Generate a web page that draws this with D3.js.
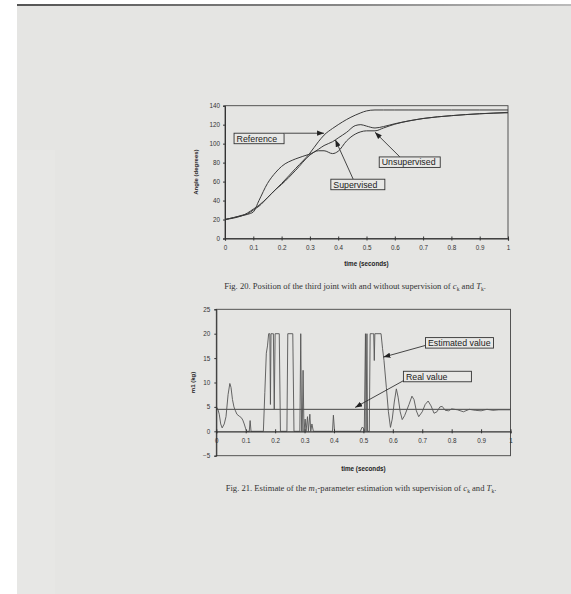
<!DOCTYPE html>
<html>
<head>
<meta charset="utf-8">
<script src="https://cdn.jsdelivr.net/npm/d3@7"></script>
<style>
  body { margin: 0; background: #fff; }
  svg { display: block; }
  .tk text { font-family: "Liberation Sans", Arial, sans-serif; font-size: 6.3px; fill: #333; }
</style>
</head>
<body>
<div id="page"></div>
<script>
// ---- Fig. 20 data (angle of the third joint, degrees) ----
const timeTop = [0, 0.03, 0.06, 0.08, 0.1, 0.12, 0.15, 0.18, 0.2, 0.25, 0.3, 0.33, 0.35, 0.38, 0.4, 0.43, 0.46, 0.48, 0.5, 0.53, 0.56, 0.6, 0.65, 0.7, 0.8, 0.9, 1];
const referenceAngle = [20, 21.5, 24, 27, 31, 35, 43, 52, 58, 74, 90, 102, 109, 116, 120, 125.5, 130, 132.5, 134.5, 135.5, 135.5, 135.5, 135.5, 135.5, 135.5, 135.5, 135.5];
const supervisedAngle = [20, 22, 24.5, 26, 30, 34, 43, 52, 57, 72, 88, 94, 98, 102, 106, 112, 119, 120, 118.5, 116.5, 118, 121, 124, 126.5, 129.5, 131.5, 132.5];
const unsupervisedAngle = [20, 22, 24, 25.5, 28, 40, 58, 70, 76, 84, 89, 92.5, 92.5, 89.5, 92, 103, 110, 112.5, 113.5, 113.5, 116.5, 120.5, 124, 126.5, 129.5, 131.5, 133];
const topSeries = [referenceAngle, supervisedAngle, unsupervisedAngle];

// annotations: label, box corner (t, value), arrow start, arrow tip
const topLabels = ['Reference', 'Supervised', 'Unsupervised'];
const topBoxAt = [[0.032, 111], [0.374, 62.5], [0.545, 86]];
const topFrom = [[0.21, 111], [0.453, 62.5], [0.618, 86]];
const topTip = [[0.35, 111], [0.39, 104], [0.53, 112]];

// ---- Fig. 21 data (m1 estimate, kg) ----
const timeEst = [0, 0.005, 0.01, 0.015, 0.02, 0.027, 0.033, 0.04, 0.046, 0.05, 0.055, 0.06, 0.065, 0.07, 0.078, 0.085, 0.09, 0.095, 0.1, 0.104,
  0.112, 0.115, 0.118, 0.16, 0.165, 0.17, 0.174, 0.178, 0.182, 0.184, 0.186, 0.19, 0.194, 0.197, 0.2, 0.21, 0.214, 0.218,
  0.24, 0.243, 0.26, 0.264, 0.284, 0.287, 0.29, 0.292, 0.295, 0.298, 0.302, 0.305, 0.31, 0.313, 0.318, 0.321, 0.325, 0.33,
  0.395, 0.398, 0.402, 0.49, 0.495, 0.5, 0.503, 0.507, 0.509, 0.512, 0.514, 0.52, 0.523, 0.53, 0.535, 0.537, 0.539, 0.56,
  0.565, 0.57, 0.578, 0.585, 0.592, 0.598, 0.605, 0.612, 0.618, 0.625, 0.632, 0.64, 0.655, 0.665, 0.672, 0.68, 0.688,
  0.7, 0.71, 0.72, 0.73, 0.74, 0.75, 0.76, 0.768, 0.778, 0.79, 0.8, 0.82, 0.84, 0.86, 0.88, 0.9, 0.92, 0.94, 0.96, 1];
const estValue = [5, 4.6, 3.5, 1.5, 0.7, 1.5, 3, 7.5, 9.8, 9, 6.5, 5, 4.2, 3.5, 3.1, 2.8, 2.3, 1.5, 0.5, 0,
  0, 2.2, 0, 0, 8, 16, 17.5, 20, 20, 5.5, 20, 20, 20, 4.5, 20, 20, 20, 0,
  0, 20, 20, 0, 0, 20, 0, 0, 12.5, 0, 2.5, 0, 3, 0, 3.5, 0, 1.5, 0,
  0, 3.3, 0, 0, 0.8, 0.7, 0, 20, 0, 20, 0, 0, 20, 20, 20, 14.5, 20, 20,
  17, 14.5, 9, 4, 0.8, 2.5, 6, 8.7, 7, 4, 2.4, 3.2, 5.5, 7.2, 6.5, 4.2, 3,
  4, 5.5, 6.2, 5.2, 3.7, 4, 5, 5.1, 4.3, 4.2, 4.6, 4.4, 4, 4.5, 4.3, 4.2, 4.5, 4.3, 4.4, 4.4];
const realValue = 4.5;

const botLabels = ['Estimated value', 'Real value'];
const botBoxAt = [[0.711, 19.2], [0.636, 12.3]];
const botFrom = [[0.711, 17.6], [0.64, 10.5]];
const botTip = [[0.568, 15.2], [0.472, 4.9]];

const ticksX = d3.range(0, 11).map(i => i / 10);
const ticksTop = d3.range(0, 141, 20);
const ticksBot = d3.range(-5, 26, 5);

// ---- page ----
const W = 571, H = 594;
const svg = d3.select('#page').append('svg').attr('width', W).attr('height', H);

const defs = svg.append('defs');
const grad = defs.append('linearGradient').attr('id', 'edge');
grad.append('stop').attr('offset', '0').attr('stop-color', '#555');
grad.append('stop').attr('offset', '0.6').attr('stop-color', '#888');
grad.append('stop').attr('offset', '1').attr('stop-color', '#bbb');
defs.append('marker').attr('id', 'arr')
    .attr('viewBox', '0 0 8 6').attr('refX', 8).attr('refY', 3)
    .attr('markerWidth', 7).attr('markerHeight', 5.5).attr('markerUnits', 'userSpaceOnUse')
    .attr('orient', 'auto')
  .append('path').attr('d', 'M0,0 L8,3 L0,6 Z').attr('fill', '#222');

svg.append('rect').attr('x', 17).attr('y', 4).attr('width', W - 17).attr('height', H - 4).attr('fill', '#e5e5e3');
svg.append('rect').attr('x', 17).attr('y', 4).attr('width', W - 17).attr('height', 2).attr('fill', 'url(#edge)');
svg.append('rect').attr('x', 17).attr('y', 150).attr('width', 38).attr('height', H - 150).attr('fill', '#e7e7e5');

const fmtX = d => String(+d.toFixed(1));

function frame(g, x, y, yLo, yHi) {
  g.append('rect')
      .attr('x', x(0)).attr('y', y(yHi))
      .attr('width', x(1) - x(0)).attr('height', y(yLo) - y(yHi))
      .attr('fill', 'none').attr('stroke', '#444').attr('stroke-width', 0.9);
}

function xAxis(g, x, y0) {
  const ax = g.append('g').attr('class', 'tk')
      .attr('transform', `translate(0,${y0})`)
      .call(d3.axisBottom(x).tickValues(ticksX).tickFormat(fmtX).tickSize(2).tickPadding(5));
  ax.select('.domain').attr('stroke', '#333').attr('stroke-width', 1.2);
  ax.selectAll('.tick line').attr('y1', -2).attr('y2', 2).attr('stroke', '#333');
}

function yAxis(g, x, y, ticks, pad) {
  const ax = g.append('g').attr('class', 'tk')
      .attr('transform', `translate(${x(0)},0)`)
      .call(d3.axisLeft(y).tickValues(ticks).tickSize(2).tickPadding(pad));
  ax.select('.domain').attr('stroke', '#333');
  ax.selectAll('.tick line').attr('stroke', '#333');
}

function annotate(g, x, y, labels, boxAt, from, tip, widths) {
  labels.forEach((lab, i) => {
    g.append('line')
        .attr('x1', x(from[i][0])).attr('y1', y(from[i][1]))
        .attr('x2', x(tip[i][0])).attr('y2', y(tip[i][1]))
        .attr('stroke', '#333').attr('stroke-width', 0.9)
        .attr('marker-end', 'url(#arr)');
    const bx = x(boxAt[i][0]), by = y(boxAt[i][1]);
    g.append('rect').attr('x', bx).attr('y', by).attr('width', widths[i]).attr('height', 10.5)
        .attr('fill', '#e8e8e6').attr('stroke', '#333').attr('stroke-width', 0.9);
    g.append('text').attr('x', bx + 2.5).attr('y', by + 8.4)
        .attr('font-family', '"Liberation Sans", Arial, sans-serif')
        .attr('font-size', 8.8).attr('fill', '#222').text(lab);
  });
}

function captionText(g, cx, cy) {
  return g.append('text').attr('x', cx).attr('y', cy).attr('text-anchor', 'middle')
      .attr('font-family', '"Liberation Serif", "Times New Roman", serif')
      .attr('font-size', 8.6).attr('fill', '#333');
}

function sub(t, s) {
  t.append('tspan').attr('font-size', 5.5).attr('dy', 1.8).text(s);
  return t.append('tspan').attr('dy', -1.8);
}

function axisTitles(g, x, y, yLo, yHi, yTitle, yTitleX, xTitleY) {
  g.append('text').attr('x', (x(0) + x(1)) / 2).attr('y', xTitleY)
      .attr('text-anchor', 'middle').attr('font-weight', 'bold')
      .attr('font-family', '"Liberation Sans", Arial, sans-serif').attr('font-size', 6.3)
      .attr('fill', '#222').text('time (seconds)');
  const my = (y(yLo) + y(yHi)) / 2;
  g.append('text').attr('transform', `translate(${yTitleX},${my}) rotate(-90)`)
      .attr('text-anchor', 'middle').attr('font-weight', 'bold')
      .attr('font-family', '"Liberation Sans", Arial, sans-serif').attr('font-size', 6)
      .attr('fill', '#222').text(yTitle);
}

// ---- Fig. 20 ----
{
  const x = d3.scaleLinear().domain([0, 1]).range([225, 508]);
  const y = d3.scaleLinear().domain([0, 140]).range([238.5, 105.7]);
  const g = svg.append('g');
  frame(g, x, y, 0, 140);
  const line = d3.line().x((d, i) => x(timeTop[i])).y(d => y(d)).curve(d3.curveMonotoneX);
  topSeries.forEach(s => {
    g.append('path').attr('d', line(s)).attr('fill', 'none')
        .attr('stroke', '#3a3a3a').attr('stroke-width', 1);
  });
  xAxis(g, x, y(0));
  yAxis(g, x, y, ticksTop, 3);
  annotate(g, x, y, topLabels, topBoxAt, topFrom, topTip, [50, 54, 61]);
  axisTitles(g, x, y, 0, 140, 'Angle (degrees)', 198, 266);
  const c = captionText(svg, 355, 289);
  c.append('tspan').text('Fig. 20. Position of the third joint with and without supervision of ');
  c.append('tspan').attr('font-style', 'italic').text('c');
  sub(c, 'k').text(' and ');
  c.append('tspan').attr('font-style', 'italic').text('T');
  sub(c, 'k').text('.');
}

// ---- Fig. 21 ----
{
  const x = d3.scaleLinear().domain([0, 1]).range([216.3, 510.5]);
  const y = d3.scaleLinear().domain([-5, 25]).range([455.7, 309.3]);
  const g = svg.append('g');
  frame(g, x, y, -5, 25);
  g.append('line').attr('x1', x(0)).attr('x2', x(1)).attr('y1', y(realValue)).attr('y2', y(realValue))
      .attr('stroke', '#333').attr('stroke-width', 0.9);
  const line = d3.line().x((d, i) => x(timeEst[i])).y(d => y(d));
  g.append('path').attr('d', line(estValue)).attr('fill', 'none')
      .attr('stroke', '#555').attr('stroke-width', 0.9).attr('stroke-linejoin', 'round');
  xAxis(g, x, y(0));
  yAxis(g, x, y, ticksBot, 4);
  annotate(g, x, y, botLabels, botBoxAt, botFrom, botTip, [68, 68]);
  axisTitles(g, x, y, -5, 25, 'm1 (kg)', 195, 471);
  const c = captionText(svg, 361, 491);
  c.append('tspan').text('Fig. 21. Estimate of the ');
  c.append('tspan').attr('font-style', 'italic').text('m');
  sub(c, '1').text('-parameter estimation with supervision of ');
  c.append('tspan').attr('font-style', 'italic').text('c');
  sub(c, 'k').text(' and ');
  c.append('tspan').attr('font-style', 'italic').text('T');
  sub(c, 'k').text('.');
}
</script>
</body>
</html>
